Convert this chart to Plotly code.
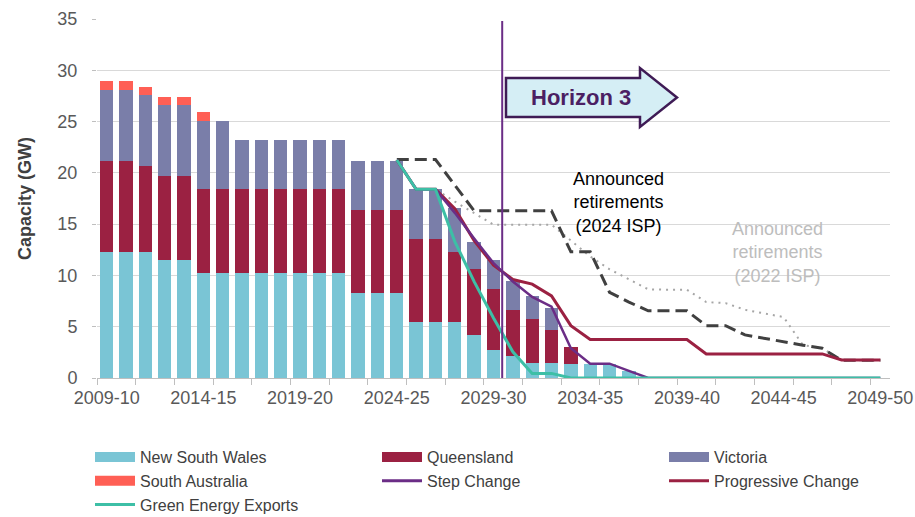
import plotly.graph_objects as go

categories = ["2009-10", "2010-11", "2011-12", "2012-13", "2013-14", "2014-15", "2015-16",
              "2016-17", "2017-18", "2018-19", "2019-20", "2020-21", "2021-22", "2022-23",
              "2023-24", "2024-25", "2025-26", "2026-27", "2027-28", "2028-29", "2029-30",
              "2030-31", "2031-32", "2032-33", "2033-34", "2034-35", "2035-36", "2036-37",
              "2037-38", "2038-39", "2039-40", "2040-41", "2041-42", "2042-43", "2043-44",
              "2044-45", "2045-46", "2046-47", "2047-48", "2048-49", "2049-50"]

nsw = [12.3, 12.3, 12.3, 11.5, 11.5, 10.25, 10.25, 10.25, 10.25, 10.25, 10.25, 10.25, 10.25,
       8.3, 8.3, 8.3, 5.45, 5.45, 5.45, 4.15, 2.75, 2.1, 1.45, 1.45, 1.4, 1.4, 1.4, 0.7,
       0, 0, 0, 0, 0, 0, 0, 0, 0, 0, 0, 0, 0]
qld = [8.85, 8.85, 8.35, 8.15, 8.15, 8.2, 8.2, 8.2, 8.2, 8.2, 8.2, 8.2, 8.2,
       8.1, 8.1, 8.1, 8.1, 8.1, 6.8, 6.45, 5.95, 4.55, 4.3, 3.2, 1.65, 0, 0, 0,
       0, 0, 0, 0, 0, 0, 0, 0, 0, 0, 0, 0, 0]
vic = [6.95, 6.95, 6.9, 6.95, 6.95, 6.65, 6.65, 4.8, 4.8, 4.8, 4.8, 4.8, 4.8,
       4.8, 4.8, 4.8, 4.85, 4.85, 4.3, 2.7, 2.8, 2.85, 2.2, 2.2, 0, 0, 0, 0,
       0, 0, 0, 0, 0, 0, 0, 0, 0, 0, 0, 0, 0]
sa = [0.85, 0.85, 0.8, 0.8, 0.8, 0.8, 0, 0, 0, 0, 0, 0, 0,
      0, 0, 0, 0, 0, 0, 0, 0, 0, 0, 0, 0, 0, 0, 0,
      0, 0, 0, 0, 0, 0, 0, 0, 0, 0, 0, 0, 0]

N = None
step_change = [N] * 15 + [21.25, 18.4, 18.4, 16.1, 13.6, 11.2, 9.4, 7.9, 6.95, 2.9, 1.4, 1.4, 0.7,
                          0, 0, 0, 0, 0, 0, 0, 0, 0, 0, 0, 0, 0]
progressive_change = [N] * 15 + [21.25, 18.4, 18.4, 16.5, 13.4, 11.0, 9.6, 9.15, 8.0, 5.1, 3.75, 3.75,
                                 3.75, 3.75, 3.75, 3.75, 2.35, 2.35, 2.35, 2.35, 2.35, 2.35, 2.35,
                                 1.75, 1.75, 1.75]
green_energy = [N] * 15 + [21.25, 18.4, 18.4, 13.3, 9.4, 5.85, 2.55, 0.45, 0.45, 0, 0, 0, 0,
                           0, 0, 0, 0, 0, 0, 0, 0, 0, 0, 0, 0, 0]
retire_2024 = [N] * 15 + [21.3, 21.3, 21.3, 18.8, 16.3, 16.3, 16.3, 16.3, 16.3, 12.3, 12.3, 8.35,
                          7.4, 6.55, 6.55, 6.55, 5.1, 5.1, 4.2, 3.85, 3.5, 3.2, 2.9, 1.72, 1.72, 1.72]
retire_2022 = [N] * 16 + [18.4, 18.4, 17.2, 16.05, 14.95, 14.95, 14.95, 14.95, 13.4, 11.85, 10.6,
                          9.65, 8.65, 8.6, 8.6, 7.4, 7.3, 6.65, 6.28, 5.94, 3.2, 2.9, 1.72, 1.72, 1.72]

tick_labels = categories[::5]
horizon_x = 20.45

xs = list(range(len(categories)))
FONT = "Arial, 'Liberation Sans', sans-serif"

C_NSW = "#7AC5D5"
C_QLD = "#9B2142"
C_VIC = "#7A7EA9"
C_SA = "#FF5F55"
C_STEP = "#6B2D86"
C_PROG = "#9B2142"
C_GREEN = "#3DBFA6"

fig = go.Figure()
for name, vals, col in [("New South Wales", nsw, C_NSW), ("Queensland", qld, C_QLD),
                        ("Victoria", vic, C_VIC), ("South Australia", sa, C_SA)]:
    fig.add_trace(go.Bar(x=xs, y=vals, name=name, marker=dict(color=col, line=dict(width=0)),
                         width=0.69, showlegend=False, legendgroup=name))

fig.add_trace(go.Scatter(x=xs, y=retire_2022, mode="lines", showlegend=False,
                         line=dict(color="#A6A6A6", width=2, dash="2px,5px")))
fig.add_trace(go.Scatter(x=xs, y=retire_2024, mode="lines", showlegend=False,
                         line=dict(color="#404040", width=3, dash="12px,6px")))
fig.add_trace(go.Scatter(x=xs, y=progressive_change, mode="lines", name="Progressive Change",
                         showlegend=False, line=dict(color=C_PROG, width=3)))
fig.add_trace(go.Scatter(x=xs, y=step_change, mode="lines", name="Step Change",
                         showlegend=False, line=dict(color=C_STEP, width=2.5)))
fig.add_trace(go.Scatter(x=xs, y=green_energy, mode="lines", name="Green Energy Exports",
                         showlegend=False, line=dict(color=C_GREEN, width=3)))

# legend entries (order as in the reference)
legend_items = [("New South Wales", C_NSW, 10), ("Queensland", C_QLD, 10), ("Victoria", C_VIC, 10),
                ("South Australia", C_SA, 10), ("Step Change", C_STEP, 3),
                ("Progressive Change", C_PROG, 3), ("Green Energy Exports", C_GREEN, 3)]
for name, col, w in legend_items:
    fig.add_trace(go.Scatter(x=[None], y=[None], mode="lines", name=name,
                             line=dict(color=col, width=w), showlegend=True))

# vertical Horizon line
fig.add_shape(type="line", x0=horizon_x, x1=horizon_x, y0=0, y1=34.8, xref="x", yref="y",
              line=dict(color=C_STEP, width=2))

# arrow shape in paper coordinates (pixel helper)
L, T, W, H = 97, 19, 793, 359


def px(xp, yp):
    return (xp - L) / W, (T + H - yp) / H


pts = [(506, 78), (640, 78), (640, 68), (677, 97.5), (640, 127), (640, 117), (506, 117)]
path = "M " + " L ".join("%.5f,%.5f" % px(a, b) for a, b in pts) + " Z"
fig.add_shape(type="path", path=path, xref="paper", yref="paper",
              fillcolor="#D5EEF5", line=dict(color="#3F1B55", width=2.5))

fig.add_annotation(x=24.5, y=27.3, xref="x", yref="y", text="<b>Horizon 3</b>", showarrow=False,
                   font=dict(family=FONT, size=22, color="#4B1F63"))
fig.add_annotation(x=26.45, y=17.1, xref="x", yref="y",
                   text="Announced<br>retirements<br>(2024 ISP)", showarrow=False,
                   font=dict(family=FONT, size=18, color="#000000"))
fig.add_annotation(x=34.7, y=12.2, xref="x", yref="y",
                   text="Announced<br>retirements<br>(2022 ISP)", showarrow=False,
                   font=dict(family=FONT, size=18, color="#BDBDBD"))

lx, ly = px(90, 440)

fig.update_layout(
    width=915, height=517,
    margin=dict(l=L, r=915 - L - W, t=T, b=517 - T - H, autoexpand=False),
    paper_bgcolor="white", plot_bgcolor="white",
    barmode="stack", bargap=0.31,
    font=dict(family=FONT, size=18, color="#595959"),
    xaxis=dict(range=[-0.5, len(categories) - 0.5], tickmode="array",
               tickvals=[categories.index(c) for c in tick_labels], ticktext=tick_labels,
               ticks="", showgrid=False, zeroline=False,
               showline=True, linecolor="#BFBFBF", linewidth=1,
               tickfont=dict(size=18, color="#595959"), ticklabelstandoff=3,
               minor=dict(tickmode="linear", tick0=-0.5, dtick=2, ticks="outside",
                          ticklen=6, tickcolor="#BFBFBF", showgrid=False)),
    yaxis=dict(range=[0, 35], dtick=5, showgrid=True, gridcolor="#D9D9D9", gridwidth=1,
               zeroline=False, showline=False, ticks="outside", ticklen=4, tickcolor="#BFBFBF",
               tickfont=dict(size=18, color="#595959"), ticklabelstandoff=11,
               title=dict(text="<b>Capacity (GW)</b>", font=dict(size=18, color="#404040"),
                          standoff=21)),
    legend=dict(orientation="h", x=lx, xanchor="left", y=ly, yanchor="top",
                entrywidth=232, entrywidthmode="pixels", traceorder="normal",
                font=dict(size=16, color="#404040"), itemwidth=40, tracegroupgap=0,
                bgcolor="rgba(0,0,0,0)"),
)

fig.write_html("out.html", config={"displayModeBar": False},
               post_script="document.body.style.margin='0px';document.body.style.overflow='hidden';")
